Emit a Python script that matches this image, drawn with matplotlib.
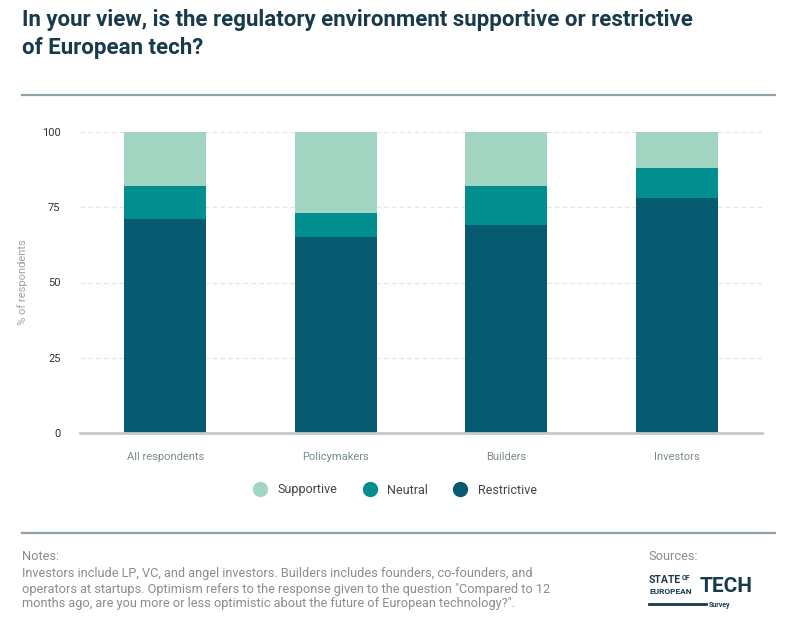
import matplotlib.pyplot as plt
import numpy as np
from matplotlib.lines import Line2D

plt.rcParams["font.family"] = ["Roboto", "DejaVu Sans"]

categories = ["All respondents", "Policymakers", "Builders", "Investors"]
restrictive = [71, 65, 69, 78]
neutral = [11, 8, 13, 10]
supportive = [18, 27, 18, 12]
yticks = [0, 25, 50, 75, 100]

C_SUP = "#a2d4c2"
C_NEU = "#028d8f"
C_RES = "#075b70"
NAVY = "#183a4a"
GREY = "#8c8c8c"

W, H = 801, 631
fig = plt.figure(figsize=(W / 100, H / 100), dpi=100)


def fx(x):
    return x / W


def fy(y):
    return 1 - y / H


ax = fig.add_axes([fx(80), fy(433), fx(762) - fx(80), fy(132) - fy(433)])
x = np.arange(len(categories))
bw = 0.48
ax.bar(x, restrictive, bw, color=C_RES, zorder=3)
ax.bar(x, neutral, bw, bottom=restrictive, color=C_NEU, zorder=3)
bot2 = np.array(restrictive) + np.array(neutral)
ax.bar(x, supportive, bw, bottom=bot2, color=C_SUP, zorder=3)

ax.set_xlim(-0.5, len(categories) - 0.5)
ax.set_ylim(0, 100)
ax.set_yticks(yticks)
ax.set_xticks(x)
ax.set_xticklabels(categories, color="#7a8a90", fontsize=8)
ax.tick_params(axis="x", length=0, pad=14)
ax.tick_params(axis="y", length=0, pad=14, labelsize=8, labelcolor="#333333")
for t in yticks[1:]:
    ax.axhline(t, color="#e3e3e3", lw=0.8, ls=(0, (4, 3)), zorder=1)
for s in ["top", "right", "left"]:
    ax.spines[s].set_visible(False)
ax.spines["bottom"].set_color("#c3cacc")
ax.spines["bottom"].set_linewidth(2)
ax.spines["bottom"].set_zorder(4)
ax.set_ylabel("% of respondents", color="#9aa3a6", fontsize=8, labelpad=10)

# legend
handles = [Line2D([], [], marker="o", ls="", ms=10, color=c) for c in (C_SUP, C_NEU, C_RES)]
fig.legend(handles, ["Supportive", "Neutral", "Restrictive"], loc="center",
           bbox_to_anchor=(fx(392), fy(490)), ncol=3, frameon=False,
           fontsize=9, handletextpad=0.4, columnspacing=1.6,
           labelcolor="#444444")

# title
title_lines = ["In your view, is the regulatory environment supportive or restrictive",
               "of European tech?"]
for i, line in enumerate(title_lines):
    fig.text(fx(22), fy(20 + 28 * i), line, ha="left", va="center", fontsize=16,
             fontweight="bold", color=NAVY)
fig.add_artist(Line2D([fx(22), fx(775)], [fy(95), fy(95)], color="#8fa2a9", lw=1.6))
fig.add_artist(Line2D([fx(22), fx(775)], [fy(533), fy(533)], color="#8fa2a9", lw=1.6))

# notes
fig.text(fx(22), fy(556), "Notes:", ha="left", va="center", fontsize=9.2, color=GREY)
fig.text(fx(22), fy(589),
         "Investors include LP, VC, and angel investors. Builders includes founders, co-founders, and\n"
         "operators at startups. Optimism refers to the response given to the question \"Compared to 12\n"
         "months ago, are you more or less optimistic about the future of European technology?\".",
         ha="left", va="center", fontsize=9.2, color=GREY, linespacing=1.2)
fig.text(fx(648), fy(556), "Sources:", ha="left", va="center", fontsize=9.2, color=GREY)

# logo
fig.text(fx(649), fy(580), "STATE", ha="left", va="center", fontsize=7.5, fontweight="bold", color=NAVY)
fig.text(fx(682), fy(578), "OF", ha="left", va="center", fontsize=5, fontweight="bold", color=NAVY)
fig.text(fx(649), fy(592), "EUROPEAN", ha="left", va="center", fontsize=6, fontweight="bold", color=NAVY)
fig.text(fx(700), fy(586), "TECH", ha="left", va="center", fontsize=15, fontweight="bold", color=NAVY)
fig.add_artist(Line2D([fx(649), fx(706)], [fy(604), fy(604)], color=NAVY, lw=2))
fig.text(fx(709), fy(605), "Survey", ha="left", va="center", fontsize=5, fontweight="bold", color=NAVY)

fig.savefig("out.png", dpi=100)
